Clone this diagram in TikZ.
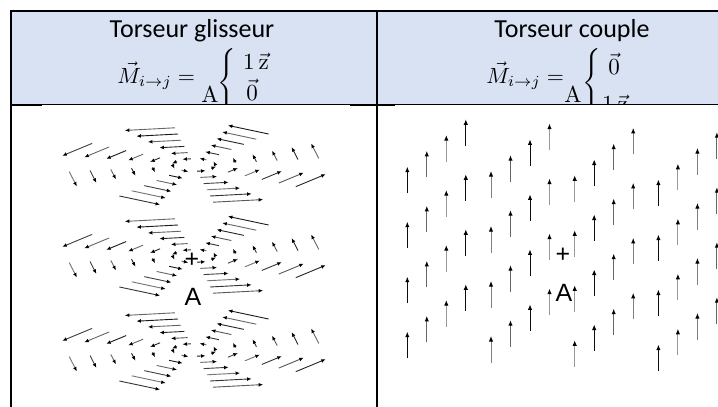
\documentclass[tikz,border=0pt]{standalone}
\usepackage{amsmath}
\usepackage[no-math]{fontspec}
\setmainfont{Carlito}
\newfontfamily\arialf{Liberation Sans}
\usetikzlibrary{arrows.meta}
\definecolor{hdrblue}{RGB}{217,226,243}
\begin{document}
\begin{tikzpicture}[x=1pt,y=-1pt,
  fieldarr/.style={line width=0.9pt,-{Latex[length=4.5pt,width=3.8pt,color=black]}},
  couplearr/.style={line width=1pt,-{Latex[length=5.5pt,width=4.4pt,color=black]}},
  title/.style={font=\fontsize{26}{30}\selectfont, anchor=base, inner sep=0pt},
  frm/.style={line width=1.6pt},
  lbl/.style={font=\arialf\fontsize{25}{30}\selectfont, inner sep=0pt},
  mth/.style={scale=2.3, inner sep=0pt},
  mthm/.style={scale=2.2, inner sep=0pt}
]
\useasboundingbox (0,0) rectangle (718,407);
\clip (0,0) rectangle (718,407);
\fill[white] (0,0) rectangle (718,407);
\fill[hdrblue] (11,11) rectangle (718,104);

% titles
\node[title] (t1) at (192,37) {Torseur glisseur};
\node[title] (t2) at (572,37) {Torseur couple};

% formulas
\begin{scope}
\clip (11,11) rectangle (718,104);
\node[mthm, anchor=base west] (m1) at (117,83) {$\vec{M}_{i\rightarrow j} =$};
\node[mth, anchor=base west] (a1) at (201,102) {$\mathrm{A}$};
\node[mth, anchor=west] (b1) at (217,83) {$\left\{\vrule width 0pt height 11pt depth 11pt\right.$};
\node[mth, anchor=base] (r11) at (256,69) {$1\,\vec{\mathrm{z}}$};
\node[mth, anchor=base] (r12) at (252,100) {$\vec{0}$};
\node[mthm, anchor=base west] (m2) at (486,83) {$\vec{M}_{i\rightarrow j} =$};
\node[mth, anchor=base west] (a2) at (564,102) {$\mathrm{A}$};
\node[mth, anchor=west] (b2) at (582,83) {$\left\{\vrule width 0pt height 11pt depth 11pt\right.$};
\node[mth, anchor=base] (r21) at (614,74) {$\vec{0}$};
\node[mth, anchor=base] (r22) at (615,111) {$1\,\vec{\mathrm{z}}$};
\end{scope}

% table lines
\draw[frm] (11,11) -- (718,11);
\draw[frm] (11,10.2) -- (11,407);
\draw[frm] (377,10.2) -- (377,407);
\draw[line width=1pt] (11,104.5) -- (718,104.5);
\draw[line width=2pt] (11,105) -- (42,105);
\draw[line width=2pt] (350,105) -- (395,105);

% glisseur field: three planes
\foreach \cy in {165,256,350}{
  \foreach \a [count=\ai] in {0,45,...,315}{
    \foreach \r in {1,...,6}{
      \pgfmathtruncatemacro\sh{{90,60,75,55,80,65,85,60}[mod(\r+\ai,8)]}
      \pgfmathsetmacro\px{194+\r*(20.8*cos(\a)-3.2*sin(\a))}
      \pgfmathsetmacro\py{\cy+\r*(-1.1*cos(\a)-6.2*sin(\a))}
      \pgfmathsetmacro\dx{0.4*\r*(-20.8*sin(\a)-3.2*cos(\a))}
      \pgfmathsetmacro\dy{0.4*\r*(1.1*sin(\a)-6.2*cos(\a))}
      \draw[fieldarr, draw=black!\sh] (\px,\py) -- ++(\dx,\dy);
    }
  }
}
\node[lbl] (plus1) at (192,260) {+};
\node[lbl] (A1) at (193,297) {A};

% couple field: 4x4x4 lattice
\foreach \jj in {0,...,3}{
  \foreach \ii in {0,...,3}{
    \pgfmathtruncatemacro\sh{{95,60,40,95,50,60,95,40,40,95,60,50,95,40,50,60}[4*\jj+\ii]}
    \foreach \kk in {0,...,3}{
      \pgfmathsetmacro\hx{407.3+19.5*\ii+83.7*\jj}
      \pgfmathsetmacro\hy{166.7-15.8*\ii+4.3*\jj+55*\kk}
      \draw[couplearr, draw=black!\sh] (\hx,\hy+26.5) -- (\hx,\hy);
    }
  }
}
\node[lbl] (plus2) at (563,255) {+};
\node[lbl] (A2) at (564,293) {A};
\end{tikzpicture}
\end{document}
